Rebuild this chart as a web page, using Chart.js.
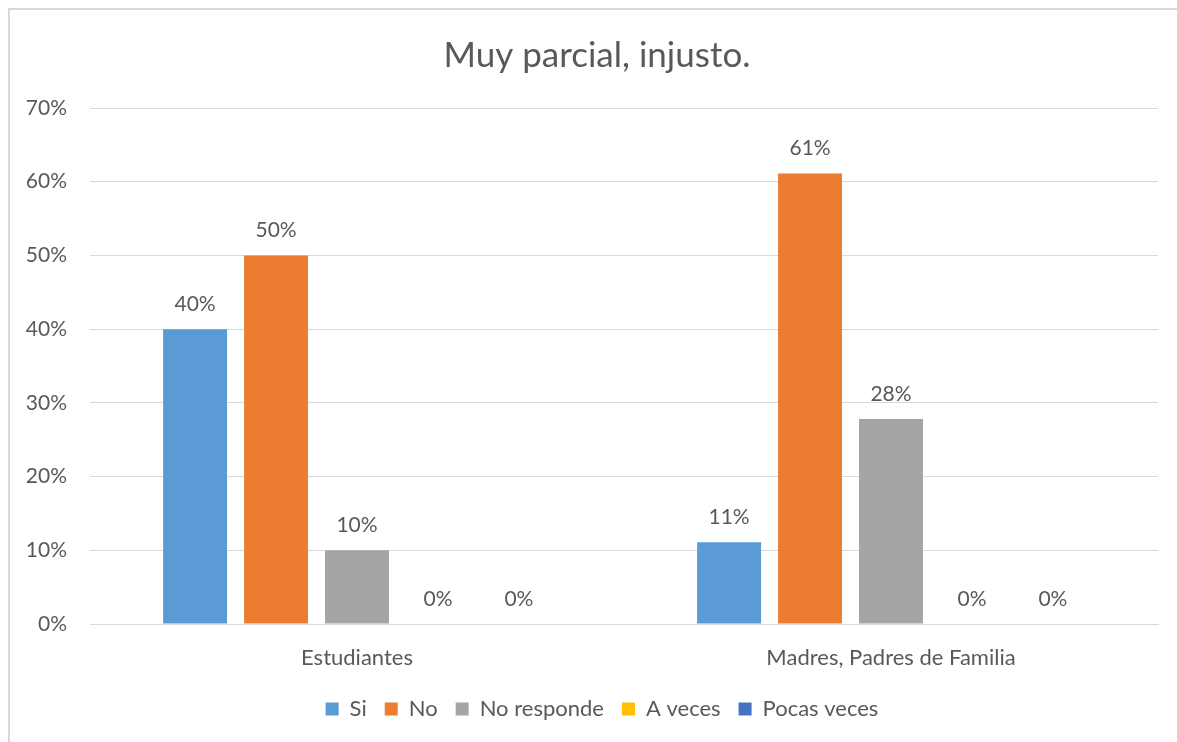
<!DOCTYPE html>
<html>
<head>
<meta charset="utf-8">
<script src="https://cdn.jsdelivr.net/npm/chart.js@4"></script>
<style>
  body { margin: 0; background: #fff; overflow: hidden; }
  #frame { position: absolute; left: 8px; top: 8px; width: 1200px; height: 800px; border: 2px solid #d9d9d9; box-sizing: border-box; }
  #wrap { position: absolute; left: 0; top: 0; width: 1177px; height: 742px; }
</style>
</head>
<body>
<div id="frame"></div>
<div id="wrap"><canvas id="chart"></canvas></div>
<script>
const categories = ['Estudiantes', 'Madres, Padres de Familia'];
const seriesNames = ['Si', 'No', 'No responde', 'A veces', 'Pocas veces'];
const si = [40, 11.1];
const no = [50, 61.1];
const noResponde = [10, 27.8];
const aVeces = [0, 0];
const pocasVeces = [0, 0];
const yTicks = [0, 10, 20, 30, 40, 50, 60, 70];

const colors = ['#5B9BD5', '#ED7D31', '#A5A5A5', '#FFC000', '#4472C4'];
const values = [si, no, noResponde, aVeces, pocasVeces];
const fontFamily = 'Lato, "Open Sans", sans-serif';
const textColor = '#595959';

// draws the value above each bar
const barLabels = {
  id: 'barLabels',
  afterDatasetsDraw(chart) {
    const ctx = chart.ctx;
    ctx.save();
    ctx.font = '21px ' + fontFamily;
    ctx.fillStyle = textColor;
    ctx.textAlign = 'center';
    ctx.textBaseline = 'middle';
    chart.data.datasets.forEach((ds, i) => {
      chart.getDatasetMeta(i).data.forEach((bar, j) => {
        ctx.fillText(Math.round(ds.data[j]) + '%', bar.x, bar.y - 25);
      });
    });
    ctx.restore();
  }
};

// title and legend sit a bit right of the canvas centre in the original
const nudge = {
  id: 'nudge',
  afterLayout(chart) {
    [[chart.titleBlock, 18], [chart.legend, 23]].forEach(([box, dx]) => {
      if (box) { box.left += dx; box.right += dx; }
    });
  }
};

new Chart(document.getElementById('chart').getContext('2d'), {
  type: 'bar',
  data: {
    labels: categories,
    datasets: seriesNames.map((name, i) => ({
      label: name,
      data: values[i],
      backgroundColor: colors[i],
      categoryPercentage: 0.758,
      barPercentage: 0.79
    }))
  },
  options: {
    responsive: true,
    maintainAspectRatio: false,
    animation: false,
    layout: { padding: { top: 35, right: 19, left: 0, bottom: 12 } },
    plugins: {
      title: {
        display: true,
        text: 'Muy parcial, injusto.',
        color: textColor,
        font: { family: fontFamily, size: 35, weight: 'normal' },
        padding: { top: 0, bottom: 31 }
      },
      legend: {
        position: 'bottom',
        labels: {
          color: textColor,
          font: { family: fontFamily, size: 22 },
          boxWidth: 13,
          boxHeight: 13,
          padding: 18
        }
      },
      tooltip: { enabled: false }
    },
    scales: {
      x: {
        grid: { display: false },
        border: { color: '#d9d9d9', width: 1 },
        afterFit(axis) { axis.height = 56; },
        ticks: { color: textColor, font: { family: fontFamily, size: 22 }, padding: 13 }
      },
      y: {
        min: 0,
        max: 70,
        afterBuildTicks(axis) { axis.ticks = yTicks.map(v => ({ value: v })); },
        afterFit(axis) { axis.width = 90; },
        grid: { color: '#d9d9d9', lineWidth: 1, drawTicks: false },
        border: { display: false },
        ticks: {
          color: textColor,
          font: { family: fontFamily, size: 21 },
          padding: 23,
          callback: v => v + '%'
        }
      }
    }
  },
  plugins: [barLabels, nudge]
});
</script>
</body>
</html>
